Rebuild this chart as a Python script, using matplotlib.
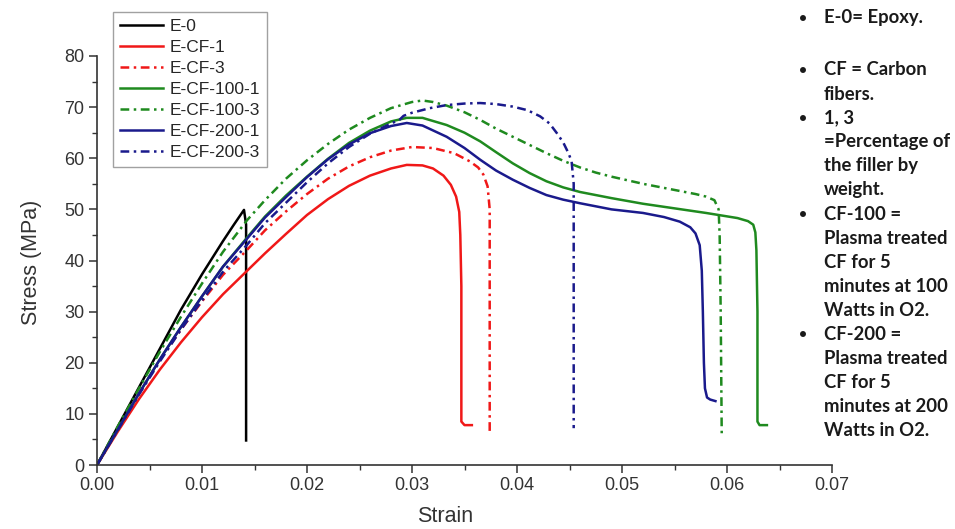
import matplotlib
matplotlib.use("Agg")
import matplotlib.pyplot as plt
from matplotlib.ticker import MultipleLocator

plt.rcParams['font.family'] = ['Liberation Sans', 'DejaVu Sans']

# strain / stress
e0_x = [0, 0.002, 0.004, 0.006, 0.008, 0.010, 0.012, 0.013, 0.0140, 0.0142, 0.0142]
e0_y = [0, 7.6, 15.2, 22.8, 30.4, 37.3, 43.8, 46.9, 49.9, 47.0, 4.8]

cf1_x = [0, 0.002, 0.004, 0.006, 0.008, 0.010, 0.012, 0.0143, 0.016, 0.018, 0.020,
         0.022, 0.024, 0.026, 0.028, 0.0295, 0.031, 0.032, 0.033, 0.0337, 0.0342,
         0.0345, 0.0346, 0.0347, 0.0347, 0.0350, 0.0357]
cf1_y = [0, 6.6, 12.9, 18.7, 24.0, 28.9, 33.4, 38.0, 41.4, 45.2, 48.9,
         52.0, 54.6, 56.6, 58.0, 58.7, 58.6, 58.0, 56.6, 54.8, 52.5,
         49.5, 45.0, 35.0, 8.5, 7.8, 7.8]

cf3_x = [0, 0.002, 0.004, 0.006, 0.008, 0.010, 0.012, 0.0143, 0.016, 0.018, 0.020,
         0.022, 0.024, 0.026, 0.028, 0.030, 0.032, 0.034, 0.0355, 0.0363, 0.0368,
         0.0372, 0.0374, 0.0374]
cf3_y = [0, 7.0, 14.0, 20.5, 26.5, 32.0, 37.2, 42.1, 45.9, 49.6, 53.0,
         56.0, 58.4, 60.2, 61.5, 62.2, 62.0, 61.0, 59.4, 58.2, 56.8,
         54.5, 50.0, 6.5]

cf100_1_x = [0, 0.002, 0.004, 0.006, 0.008, 0.010, 0.012, 0.0143, 0.016, 0.018, 0.020,
             0.022, 0.024, 0.026, 0.028, 0.0295, 0.031, 0.0333, 0.035, 0.0365, 0.038,
             0.0396, 0.0412, 0.0428, 0.0444, 0.046, 0.049, 0.052, 0.055, 0.058, 0.061,
             0.062, 0.0625, 0.0627, 0.0628, 0.0629, 0.0629, 0.0631, 0.0638]
cf100_1_y = [0, 7.0, 14.0, 20.7, 27.0, 33.0, 38.8, 44.5, 48.6, 52.7, 56.4,
             59.9, 63.0, 65.4, 67.2, 67.9, 67.9, 66.5, 65.0, 63.3, 61.2,
             59.0, 57.1, 55.5, 54.3, 53.4, 52.2, 51.1, 50.2, 49.3, 48.3,
             47.7, 47.0, 45.5, 42.0, 30.0, 8.5, 7.8, 7.8]

cf100_3_x = [0, 0.002, 0.004, 0.006, 0.008, 0.010, 0.012, 0.0143, 0.016, 0.018, 0.020,
             0.022, 0.024, 0.026, 0.028, 0.030, 0.031, 0.032, 0.0333, 0.035, 0.0365,
             0.038, 0.0396, 0.0412, 0.0428, 0.0444, 0.046, 0.0475, 0.049, 0.052, 0.055,
             0.057, 0.058, 0.0588, 0.0592, 0.0593, 0.0594, 0.0595]
cf100_3_y = [0, 7.6, 15.0, 22.2, 29.0, 35.5, 41.7, 47.9, 51.8, 56.0, 59.6,
             62.8, 65.6, 67.9, 69.8, 71.0, 71.3, 71.0, 70.3, 69.0, 67.5,
             65.8, 64.2, 62.6, 61.0, 59.5, 58.2, 57.2, 56.4, 55.0, 53.8,
             53.0, 52.5, 51.8, 50.0, 45.0, 30.0, 5.5]

cf200_1_x = [0, 0.002, 0.004, 0.006, 0.008, 0.010, 0.012, 0.0143, 0.016, 0.018, 0.020,
             0.022, 0.024, 0.026, 0.028, 0.0295, 0.031, 0.0333, 0.035, 0.0365, 0.038,
             0.0396, 0.0412, 0.0428, 0.0444, 0.046, 0.049, 0.052, 0.054, 0.0555, 0.0565,
             0.057, 0.0574, 0.0576, 0.0577, 0.0578, 0.0579, 0.0581, 0.0584, 0.0589]
cf200_1_y = [0, 7.0, 14.0, 20.7, 27.0, 33.0, 38.8, 44.3, 48.4, 52.4, 56.3,
             59.8, 62.7, 64.9, 66.3, 66.9, 66.4, 64.2, 62.0, 59.7, 57.6,
             55.8, 54.2, 52.8, 51.9, 51.2, 50.0, 49.3, 48.5, 47.6, 46.5,
             45.3, 43.0, 38.0, 30.0, 20.0, 15.0, 13.2, 12.8, 12.5]

cf200_3_x = [0, 0.002, 0.004, 0.006, 0.008, 0.010, 0.012, 0.0143, 0.016, 0.018, 0.020,
             0.022, 0.024, 0.026, 0.028, 0.0288, 0.0292, 0.030, 0.0317, 0.0333, 0.035,
             0.0365, 0.038, 0.0396, 0.041, 0.0422, 0.0431, 0.0438, 0.0444, 0.0449, 0.0452,
             0.0454, 0.0454]
cf200_3_y = [0, 6.9, 13.8, 20.3, 26.5, 32.2, 37.8, 43.1, 47.3, 51.3, 55.3,
             59.0, 62.2, 64.8, 66.8, 67.5, 68.3, 68.9, 69.8, 70.4, 70.7,
             70.8, 70.6, 70.1, 69.4, 68.2, 66.8, 64.9, 63.1, 61.0, 59.4,
             55.0, 7.2]

labels = ["E-0", "E-CF-1", "E-CF-3", "E-CF-100-1", "E-CF-100-3", "E-CF-200-1", "E-CF-200-3"]

notes_top = "E-0= Epoxy."
notes = [("•", "CF = Carbon"), ("", "fibers."), ("•", "1, 3"), ("", "=Percentage of"),
         ("", "the filler by"), ("", "weight."), ("•", "CF-100 ="), ("", "Plasma treated"),
         ("", "CF for 5"), ("", "minutes at 100"), ("", "Watts in O2."), ("•", "CF-200 ="),
         ("", "Plasma treated"), ("", "CF for 5"), ("", "minutes at 200"), ("", "Watts in O2.")]

red = "#f01818"
green = "#1f8a1f"
navy = "#1a1a8c"
dd = (0, (3.5, 1.8, 1.0, 1.8))

W, H = 955, 529
fig = plt.figure(figsize=(W / 100, H / 100), dpi=100)
ax = fig.add_axes([97 / W, 1 - 465 / H, (832 - 97) / W, (465 - 56) / H])

lw = 1.8
ax.plot(e0_x, e0_y, color="black", lw=lw, label=labels[0])
ax.plot(cf1_x, cf1_y, color=red, lw=lw, label=labels[1])
ax.plot(cf3_x, cf3_y, color=red, lw=lw, ls=dd, label=labels[2])
ax.plot(cf100_1_x, cf100_1_y, color=green, lw=lw, label=labels[3])
ax.plot(cf100_3_x, cf100_3_y, color=green, lw=lw, ls=dd, label=labels[4])
ax.plot(cf200_1_x, cf200_1_y, color=navy, lw=lw, label=labels[5])
ax.plot(cf200_3_x, cf200_3_y, color=navy, lw=lw, ls=dd, label=labels[6])

ax.set_xlim(0, 0.07)
ax.set_ylim(0, 80)
ax.xaxis.set_major_locator(MultipleLocator(0.01))
ax.xaxis.set_minor_locator(MultipleLocator(0.005))
ax.yaxis.set_major_locator(MultipleLocator(10))
ax.yaxis.set_minor_locator(MultipleLocator(5))
ax.xaxis.set_major_formatter(plt.FormatStrFormatter("%.2f"))

for s in ["top", "right"]:
    ax.spines[s].set_visible(False)
for s in ["left", "bottom"]:
    ax.spines[s].set_color("#333333")
    ax.spines[s].set_linewidth(1.2)
ax.tick_params(which="major", direction="out", length=6, width=1.1, color="#333333",
               labelsize=13, labelcolor="#333333", pad=3)
ax.tick_params(which="minor", direction="out", length=3.5, width=1.0, color="#333333")
ax.patch.set_alpha(0)

fig.text(445 / W, 1 - 517 / H, "Strain", ha="center", va="center", fontsize=15.5, color="#333333")
fig.text(31 / W, 1 - 262 / H, "Stress (MPa)", ha="center", va="center", rotation=90,
         fontsize=15.5, color="#333333")

leg = ax.legend(loc="upper left", bbox_to_anchor=(113 / W, 1 - 12 / H),
                bbox_transform=fig.transFigure, fontsize=12.5, frameon=True, fancybox=False,
                handlelength=2.5, handletextpad=0.4, labelspacing=0.34, borderpad=0.38,
                borderaxespad=0)
leg.get_frame().set_edgecolor("#8a8a8a")
leg.get_frame().set_linewidth(1.0)
for t in leg.get_texts():
    t.set_color("#262626")

nfont = dict(family=["Lato", "DejaVu Sans"], weight="bold", fontsize=13.3, color="#1a1a1a",
             va="center")
bfont = dict(nfont, fontsize=10)
fig.text(803 / W, 1 - 18 / H, "•", ha="center", **bfont)
fig.text(824 / W, 1 - 18 / H, notes_top, ha="left", **nfont)
for i, (b, t) in enumerate(notes):
    y = 1 - (70 + 24 * i) / H
    if b:
        fig.text(803 / W, y, b, ha="center", **bfont)
    fig.text(824 / W, y, t, ha="left", **nfont)

fig.savefig("out.png", dpi=100)
